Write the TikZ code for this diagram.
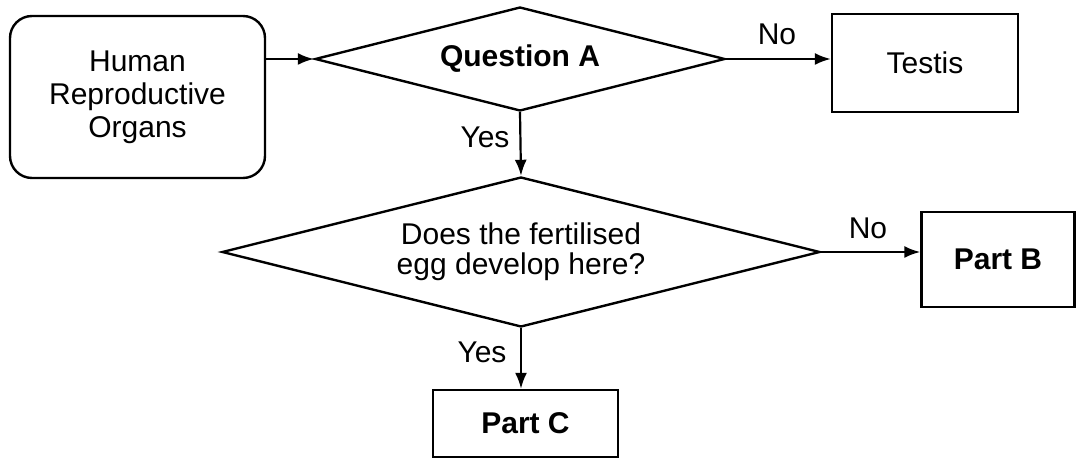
\documentclass[tikz,border=0pt]{standalone}
\usepackage{fontspec}
\setmainfont{Liberation Sans}
\usetikzlibrary{arrows.meta, shapes.geometric}

\begin{document}
\begin{tikzpicture}[x=0.5pt, y=-0.5pt,
    every node/.style={font=\fontsize{15}{15}\selectfont},
    box/.style={draw, line width=1.2pt, align=center, inner sep=0pt},
    decision/.style={draw, diamond, line width=1.2pt, align=center, inner sep=0pt},
    flow/.style={-{Latex[length=8pt,width=6pt]}, line width=1.1pt}]
\useasboundingbox (0,0) rectangle (1078,459);

% Boxes
\node[box, rounded corners=11pt, minimum width=127.5pt, minimum height=81pt,
      font=\fontsize{15}{16.5}\selectfont] (organs) at (137.5,97) {Human\\Reproductive\\Organs};
\node[decision, shape aspect=3.94, minimum width=205pt, minimum height=52pt] (qA) at (520,59) {\textbf{Question A}};
\node[box, minimum width=93pt, minimum height=49pt] (testis) at (925,63) {Testis};
\node[decision, shape aspect=3.99, minimum width=299pt, minimum height=75pt] (qB) at (521,252) {Does the fertilised\\egg develop here?};
\node[box, minimum width=76.5pt, minimum height=47.5pt] (partB) at (998,259.5) {\textbf{Part B}};
\node[box, minimum width=92.5pt, minimum height=33.5pt] (partC) at (525.5,423.5) {\textbf{Part C}};

% Labels
\node (noA) at (777,34) {No};
\node (yesA) at (485,137) {Yes};
\node (noB) at (868,228) {No};
\node (yesB) at (482,352) {Yes};

% Arrows
\draw[flow] (organs.east |- qA.west) -- (qA.west);
\draw[flow] (qA.east) -- (qA.east -| testis.west);
\draw[flow] (qA.south) -- (qB.north);
\draw[flow] (qB.east) -- (qB.east -| partB.west);
\draw[flow] (qB.south) -- (qB.south |- partC.north);
\end{tikzpicture}
\end{document}
